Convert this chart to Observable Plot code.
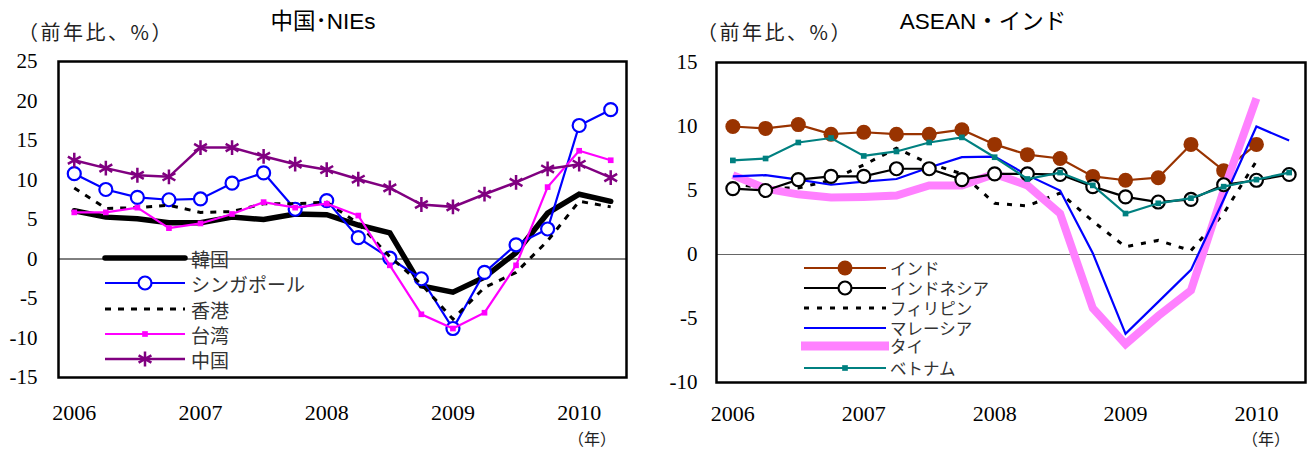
<!DOCTYPE html>
<html><head><meta charset="utf-8">
<script src="https://cdn.jsdelivr.net/npm/d3@7"></script>
<script src="https://cdn.jsdelivr.net/npm/@observablehq/plot@0.6"></script>
<style>
body{margin:0;background:#fff;}
#wrap{position:relative;width:1309px;height:449px;overflow:hidden;background:#fff;}
.abs{position:absolute;white-space:nowrap;line-height:1;}
.ttl{font-family:"Liberation Sans","Noto Sans CJK JP",sans-serif;font-size:22.5px;color:#000;transform:translate(-50%,-50%);}
.unit{font-family:"Noto Sans CJK JP",sans-serif;font-size:20px;color:#222;transform:translate(0,-50%);letter-spacing:2.5px;}
.nen{font-family:"Noto Sans CJK JP",sans-serif;font-size:16px;color:#222;transform:translate(-50%,-50%);}
#legend{position:absolute;left:0;top:0;pointer-events:none;}
</style>
</head><body>
<div id="wrap">
  <div id="left" class="abs" style="left:0;top:0"></div>
  <div id="right" class="abs" style="left:655px;top:0"></div>
  <div class="abs ttl" style="left:323px;top:22px">中国･NIEs</div>
  <div class="abs ttl" style="left:983px;top:22px">ASEAN・インド</div>
  <div class="abs unit" style="left:18px;top:32px">（前年比、%）</div>
  <div class="abs unit" style="left:697px;top:32px">（前年比、%）</div>
  <div class="abs nen" style="left:592px;top:438px">（年）</div>
  <div class="abs nen" style="left:1266px;top:438px">（年）</div>
</div>
<script>
// ---- categories ----
const quarters = ["2006Q1","2006Q2","2006Q3","2006Q4","2007Q1","2007Q2","2007Q3","2007Q4",
  "2008Q1","2008Q2","2008Q3","2008Q4","2009Q1","2009Q2","2009Q3","2009Q4","2010Q1","2010Q2"];
const yearLabels = ["2006","2007","2008","2009","2010"];
const yTicksLeft = [-15,-10,-5,0,5,10,15,20,25];
const yTicksRight = [-10,-5,0,5,10,15];

// ---- left panel series (China & NIEs) ----
const korea     = [6.1, 5.3, 5.1, 4.6, 4.6, 5.3, 5.0, 5.7, 5.6, 4.3, 3.3, -3.4, -4.2, -2.3, 0.8, 5.8, 8.2, 7.3];
const singapore = [10.8, 8.8, 7.8, 7.5, 7.6, 9.6, 10.9, 6.3, 7.4, 2.7, 0.1, -2.5, -8.8, -1.7, 1.8, 3.8, 16.9, 18.9];
const hongkong  = [9.0, 6.4, 6.5, 6.8, 5.9, 6.0, 7.0, 7.0, 7.2, 4.5, 0.3, -3.2, -7.6, -3.6, -1.7, 2.3, 7.3, 6.6];
const taiwan    = [5.9, 5.9, 6.5, 3.9, 4.5, 5.7, 7.2, 6.5, 7.0, 5.5, -0.8, -7.0, -8.8, -6.8, -0.8, 9.1, 13.7, 12.5];
const china     = [12.5, 11.5, 10.6, 10.4, 14.1, 14.1, 13.0, 12.0, 11.3, 10.1, 9.0, 6.9, 6.6, 8.2, 9.7, 11.4, 12.0, 10.3];

// ---- right panel series (ASEAN & India) ----
const india       = [10.0, 9.85, 10.15, 9.4, 9.55, 9.4, 9.4, 9.75, 8.6, 7.8, 7.5, 6.1, 5.8, 6.0, 8.6, 6.55, 8.6, null];
const indonesia   = [5.15, 5.0, 5.85, 6.1, 6.1, 6.7, 6.7, 5.85, 6.3, 6.3, 6.25, 5.3, 4.5, 4.1, 4.3, 5.45, 5.8, 6.25];
const philippines = [5.5, 5.2, 5.2, 5.8, 7.0, 8.3, 7.1, 6.3, 4.0, 3.8, 4.8, 2.6, 0.6, 1.1, 0.3, 3.2, 7.3, null];
const malaysia    = [6.1, 6.2, 5.85, 5.45, 5.7, 5.9, 6.8, 7.6, 7.65, 6.2, 5.0, 0.1, -6.2, -3.7, -1.2, 4.3, 10.0, 8.9];
const thailand    = [6.2, 5.15, 4.7, 4.45, 4.5, 4.6, 5.4, 5.4, 6.3, 5.4, 3.2, -4.2, -7.0, -4.8, -2.8, 5.0, 12.2, null];
const vietnam     = [7.35, 7.5, 8.75, 9.1, 7.7, 8.05, 8.75, 9.15, 7.6, 5.9, 6.4, 5.4, 3.2, 4.0, 4.4, 5.3, 5.85, 6.4];

// ---- series styling tables ----
const leftSeries = [
  {name:"韓国", values:korea, stroke:"#000000", width:5.5, cap:"round"},
  {name:"シンガポール", values:singapore, stroke:"#0000FF", width:2.2, marker:"circle", r:6.5, fill:"white", mstroke:"#0000FF", mwidth:2.2},
  {name:"香港", values:hongkong, stroke:"#000000", width:3, dash:"6,7"},
  {name:"台湾", values:taiwan, stroke:"#FF00FF", width:2.2, marker:"square", r:3.2, fill:"#FF00FF", mstroke:"none"},
  {name:"中国", values:china, stroke:"#800080", width:2.5, marker:"asterisk", r:7, fill:"none", mstroke:"#800080", mwidth:2.5}
];
const rightSeries = [
  {name:"インド", values:india, stroke:"#993300", width:2.2, marker:"circle", r:7.5, fill:"#993300", mstroke:"none", z:0},
  {name:"インドネシア", values:indonesia, stroke:"#000000", width:2.2, marker:"circle", r:6.5, fill:"white", mstroke:"#000000", mwidth:2.2, z:4},
  {name:"フィリピン", values:philippines, stroke:"#000000", width:3, dash:"5,8", z:1},
  {name:"マレーシア", values:malaysia, stroke:"#0000FF", width:2.2, z:3},
  {name:"タイ", values:thailand, stroke:"#FF80FF", width:8, z:2},
  {name:"ベトナム", values:vietnam, stroke:"#008080", width:2.2, marker:"square", r:3.2, fill:"#008080", mstroke:"none", z:5}
];

function rows(s){ return quarters.map((q,i)=>({i, q, v:s.values[i]})).filter(d=>d.v!=null); }

function seriesMarks(list){
  const marks = [];
  for (const s of list){
    const data = rows(s);
    marks.push(Plot.line(data, {x:"i", y:"v", stroke:s.stroke, strokeWidth:s.width,
      strokeDasharray:s.dash, strokeLinecap:s.cap || "butt", strokeLinejoin:"miter", strokeMiterlimit:4}));
    if (s.marker) marks.push(Plot.dot(data, {x:"i", y:"v", symbol:s.marker, r:s.r, fill:s.fill,
      stroke:s.mstroke, strokeWidth:s.mwidth || 1}));
  }
  return marks;
}

function panel(list, opts){
  return Plot.plot({
    width: opts.width, height: 449,
    marginLeft: opts.ml, marginRight: opts.mr, marginTop: opts.mt, marginBottom: opts.mb,
    style: {fontFamily:"Liberation Serif, serif", color:"#000", background:"transparent", overflow:"visible"},
    x: {type:"linear", domain:[-0.5, 17.5]},
    y: {domain: opts.ydomain},
    marks: [
      Plot.ruleY([0], {stroke: opts.zeroColor, strokeWidth: 1}),
      ...seriesMarks(list),
      Plot.frame({stroke:"#000", strokeWidth:2.5}),
      Plot.axisY(opts.yticks, {tickSize:0, tickPadding:opts.ypad, fontSize:21, label:null, tickFormat:d=>String(d)}),
      Plot.axisX([0,4,8,12,16], {tickSize:0, tickPadding:opts.xpad, fontSize:22, label:null, tickFormat:i=>yearLabels[i/4]})
    ]
  });
}

document.getElementById("left").append(panel(leftSeries,
  {width:650, ml:58, mr:24, mt:61, mb:72, ydomain:[-15,25], yticks:yTicksLeft, ypad:21, xpad:27, zeroColor:"#000"}));
const rightOrder = rightSeries.slice().sort((a,b)=>a.z-b.z);
document.getElementById("right").append(panel(rightOrder,
  {width:654, ml:61, mr:4, mt:62, mb:67, ydomain:[-10,15], yticks:yTicksRight, ypad:19, xpad:23, zeroColor:"#666"}));

// ---- legends ----
const svg = d3.select("#wrap").append("svg").attr("id","legend").attr("width",1309).attr("height",449);
function legend(list, x0, x1, ys, tx, fs){
  list.forEach((s,k)=>{
    const y = ys[k], g = svg.append("g");
    if (s.width >= 8) {
      g.append("rect").attr("x",x0-3).attr("y",y-4.5).attr("width",x1-x0+6).attr("height",9).attr("fill",s.stroke);
    } else {
      g.append("line").attr("x1",x0).attr("x2",x1).attr("y1",y).attr("y2",y)
        .attr("stroke",s.stroke).attr("stroke-width",s.width).attr("stroke-dasharray",s.dash||null)
        .attr("stroke-linecap",s.cap||"butt");
    }
    if (s.marker){
      const type = {circle:d3.symbolCircle, square:d3.symbolSquare, asterisk:d3.symbolAsterisk}[s.marker];
      g.append("path").attr("transform",`translate(${(x0+x1)/2},${y})`)
        .attr("d", d3.symbol(type, Math.PI*s.r*s.r)())
        .attr("fill",s.fill).attr("stroke",s.mstroke).attr("stroke-width",s.mwidth||1);
    }
    g.append("text").attr("x",tx).attr("y",y).attr("dominant-baseline","central")
      .attr("font-family","Noto Sans CJK JP, sans-serif").attr("font-size",fs).attr("fill","#333").text(s.name);
  });
}
legend(leftSeries, 105, 185, [258,283,309,334,359], 191, 19);
legend(rightSeries, 804, 886, [268,288,308,328,346,368], 890, 16.5);
</script>
</body></html>
